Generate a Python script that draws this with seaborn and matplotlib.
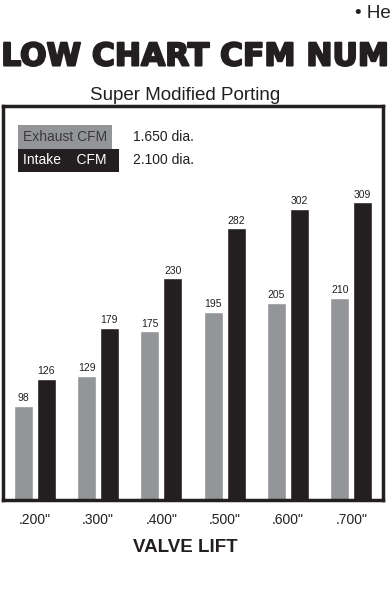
import pandas as pd
import matplotlib.pyplot as plt
import matplotlib.patheffects as pe
import seaborn as sns

lifts = ['.200"', '.300"', '.400"', '.500"', '.600"', '.700"']
exhaust_cfm = [98, 129, 175, 195, 205, 210]
intake_cfm = [126, 179, 230, 282, 302, 309]

gray = '#939598'
black = '#231f20'

df = pd.DataFrame({
    'lift': lifts * 2,
    'cfm': exhaust_cfm + intake_cfm,
    'port': ['Exhaust'] * len(lifts) + ['Intake'] * len(lifts),
})

sns.set_style('white')
plt.rcParams['font.family'] = ['Liberation Sans', 'DejaVu Sans']

fig = plt.figure(figsize=(3.9, 6), dpi=100)
ax = fig.add_axes([3 / 390, 100 / 600, 380 / 390, 394 / 600])

sns.barplot(data=df, x='lift', y='cfm', hue='port', order=lifts,
            hue_order=['Exhaust', 'Intake'], palette=[gray, black],
            width=0.72, gap=0.17, legend=False, ax=ax, saturation=1)

for cont in ax.containers:
    ax.bar_label(cont, fmt='%d', fontsize=7.5, padding=2, color='#231f20')

ax.set_xlim(-0.5, 5.5)
ax.set_ylim(0, 409)
ax.set_yticks([])
ax.set_xlabel('')
ax.set_ylabel('')
ax.tick_params(axis='x', length=0, pad=9, labelsize=10, colors='#231f20')
for s in ax.spines.values():
    s.set_visible(True)
    s.set_color('#231f20')
    s.set_linewidth(2.5)

# legend boxes
ax.text(0.052, 0.922, 'Exhaust CFM', transform=ax.transAxes, fontsize=10,
        color='#3a3a3a', va='center',
        bbox=dict(boxstyle='square,pad=0.35', fc=gray, ec='none'))
ax.text(0.052, 0.862, 'Intake    CFM  ', transform=ax.transAxes, fontsize=10,
        color='white', va='center',
        bbox=dict(boxstyle='square,pad=0.35', fc=black, ec='none'))
ax.text(0.342, 0.922, '1.650 dia.', transform=ax.transAxes, fontsize=10,
        color='#231f20', va='center')
ax.text(0.342, 0.862, '2.100 dia.', transform=ax.transAxes, fontsize=10,
        color='#231f20', va='center')

fig.text(355 / 390, 1 - 14 / 600, '• He', fontsize=13.5, va='center', color='#231f20')
fig.text(0.5, 1 - 57 / 600, 'LOW CHART CFM NUM', fontsize=22.5,
         fontweight='heavy', family='DejaVu Sans', ha='center', va='center',
         color='#231f20',
         path_effects=[pe.withStroke(linewidth=1.5, foreground='#231f20')])
fig.text(185 / 390, 1 - 95 / 600, 'Super Modified Porting', fontsize=13.5,
         ha='center', va='center', color='#231f20')
fig.text(185 / 390, 1 - 548 / 600, 'VALVE LIFT', fontsize=13.5, fontweight='bold',
         ha='center', va='center', color='#231f20')

plt.savefig('out.png', dpi=100)
plt.close()
